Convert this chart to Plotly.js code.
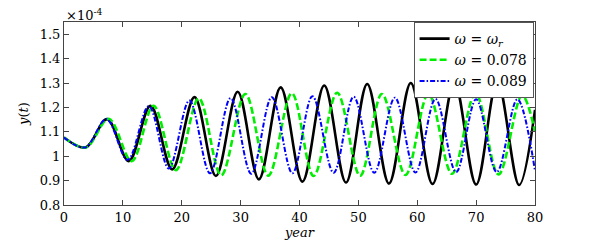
<!DOCTYPE html>
<html>
<head>
<meta charset="utf-8">
<script src="https://cdn.plot.ly/plotly-3.0.1.min.js"></script>
<style>html,body{margin:0;padding:0;background:#fff;}#chart{width:589px;height:240px;}</style>
</head>
<body>
<div id="chart"></div>
<script>
// values in units of 1e-4 (read at the curves' turning points)
const blackX = [0, 3.65, 7.33, 11.0, 14.7, 18.37, 22.16, 25.8, 29.5, 33.1, 36.8, 40.5, 44.2, 47.9, 51.5, 55.2, 58.9, 62.6, 66.3, 70.0, 73.6, 77.3, 80];
const blackY = [1.077, 1.036, 1.152, 0.980, 1.207, 0.946, 1.242, 0.919, 1.264, 0.905, 1.282, 0.896, 1.290, 0.892, 1.296, 0.888, 1.300, 0.886, 1.303, 0.884, 1.307, 0.882, 1.19];

const greenX = [0, 3.7, 7.6, 11.5, 15.2, 19.0, 22.9, 26.7, 30.8, 34.7, 38.7, 42.4, 46.4, 50.3, 54.0, 58.0, 61.9, 65.9, 69.9, 73.8, 77.8, 80];
const greenY = [1.077, 1.036, 1.153, 0.980, 1.207, 0.943, 1.237, 0.922, 1.255, 0.920, 1.258, 0.919, 1.260, 0.920, 1.255, 0.923, 1.255, 0.928, 1.258, 0.925, 1.250, 1.10];

const blueX = [0, 3.6, 7.2, 10.8, 14.4, 17.8, 21.3, 24.8, 28.3, 31.8, 35.3, 38.8, 42.2, 45.8, 49.2, 52.7, 56.2, 59.7, 63.1, 66.6, 70.0, 73.5, 77.0, 80];
const blueY = [1.077, 1.036, 1.152, 0.985, 1.205, 0.950, 1.228, 0.930, 1.238, 0.928, 1.242, 0.930, 1.246, 0.932, 1.244, 0.932, 1.240, 0.933, 1.235, 0.935, 1.233, 0.935, 1.233, 0.94];

const seriesNames = ['<i>ω</i> = <i>ω<sub>r</sub></i>', '<i>ω</i> = 0.078', '<i>ω</i> = 0.089'];
const xTicks = [0, 10, 20, 30, 40, 50, 60, 70, 80];
const yTicks = [0.8, 0.9, 1, 1.1, 1.2, 1.3, 1.4, 1.5];

const serif = '"DejaVu Serif", "Liberation Serif", serif';

const traces = [
  {x: blackX, y: blackY, name: seriesNames[0], mode: 'lines',
   line: {color: '#000000', width: 2.6, shape: 'spline', smoothing: 1}},
  {x: greenX, y: greenY, name: seriesNames[1], mode: 'lines',
   line: {color: '#00ee00', width: 2.6, dash: '7px,3px', shape: 'spline', smoothing: 1}},
  {x: blueX, y: blueY, name: seriesNames[2], mode: 'lines',
   line: {color: '#0000ff', width: 2, dash: '5px,2px,1.5px,2px', shape: 'spline', smoothing: 1}}
];

const layout = {
  width: 589, height: 240,
  margin: {l: 63.5, r: 54, t: 21.7, b: 35},
  paper_bgcolor: '#ffffff', plot_bgcolor: '#ffffff',
  showlegend: true,
  legend: {x: 0.997, xanchor: 'right', y: 1, yanchor: 'top',
    bgcolor: '#ffffff', bordercolor: '#555555', borderwidth: 1,
    font: {family: serif, size: 14, color: '#000'},
    tracegroupgap: 0, itemwidth: 30},
  xaxis: {range: [0, 80], tickvals: xTicks, ticks: 'inside', ticklen: 5,
    showgrid: false, zeroline: false, showline: true, mirror: 'ticks',
    linecolor: '#444', linewidth: 1, tickcolor: '#444',
    tickfont: {family: serif, size: 13, color: '#000'},
    title: {text: ''}},
  yaxis: {range: [0.8, 1.55], tickvals: yTicks, ticks: 'inside', ticklen: 5,
    showgrid: false, zeroline: false, showline: true, mirror: 'ticks',
    linecolor: '#444', linewidth: 1, tickcolor: '#444',
    tickfont: {family: serif, size: 13, color: '#000'},
    title: {text: '<i>y</i>(<i>t</i>)', font: {family: serif, size: 13, color: '#000'}, standoff: 8}},
  annotations: [
    {text: '×10<sup>-4</sup>', xref: 'paper', yref: 'paper', x: 0, y: 1,
     xanchor: 'left', yanchor: 'bottom', showarrow: false, yshift: -3,
     font: {family: serif, size: 13, color: '#000'}},
    {text: '<i>year</i>', xref: 'paper', yref: 'paper', x: 0.5, y: 0,
     xanchor: 'center', yanchor: 'top', showarrow: false, yshift: -18,
     font: {family: serif, size: 13, color: '#000'}}
  ]
};

Plotly.newPlot('chart', traces, layout, {displayModeBar: false, staticPlot: true});
</script>
</body>
</html>
